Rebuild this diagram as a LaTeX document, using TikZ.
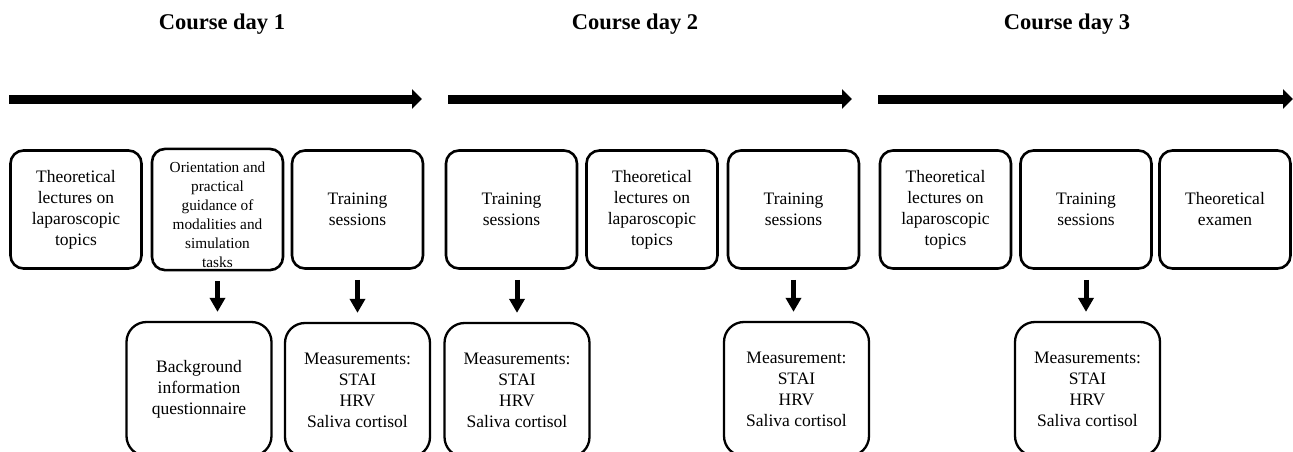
\documentclass[tikz,border=0pt]{standalone}
\usepackage{fontspec}
\setmainfont{Liberation Serif}
\usepackage{tikz}
\usetikzlibrary{arrows.meta,positioning}
\tikzstyle{daytitle} = [font=\fontsize{22.5}{26}\selectfont\bfseries]
\tikzstyle{activity} = [rectangle, rounded corners=13pt, minimum width=131pt, minimum height=118pt, text centered, align=center, draw=black, line width=2.6pt, font=\fontsize{17.5}{21}\selectfont]
\tikzstyle{measure} = [rectangle, rounded corners=20pt, minimum width=145pt, minimum height=134pt, text centered, align=center, draw=black, line width=2.3pt, font=\fontsize{17.5}{21}\selectfont]
\tikzstyle{timeline} = [line width=9pt, -{Triangle[length=10pt,width=19pt]}]
\tikzstyle{arrow} = [line width=5pt, -{Triangle[length=14pt,width=15pt]}, shorten <=10pt, shorten >=9pt]

\begin{document}
\begin{tikzpicture}[x=1pt,y=-1pt]
\useasboundingbox (0,0) rectangle (1293,452);
\clip (0,0) rectangle (1293,452);

% Day titles
\node[daytitle] (day1) at (222,24) {Course day 1};
\node[daytitle] (day2) at (635,24) {Course day 2};
\node[daytitle] (day3) at (1067,24) {Course day 3};

% Timelines
\coordinate (t1s) at (9,99);
\coordinate (t1e) at (422,99);
\coordinate (t2s) at (448,99);
\coordinate (t2e) at (852,99);
\coordinate (t3s) at (878,99);
\coordinate (t3e) at (1293,99);
\draw[timeline] (t1s) -- (t1e);
\draw[timeline] (t2s) -- (t2e);
\draw[timeline] (t3s) -- (t3e);

% Course day 1
\node[activity] (lect1) at (76,209.5) {Theoretical\\lectures on\\laparoscopic\\topics};
\node[activity, inner sep=2pt, font=\fontsize{15.3}{19}\selectfont] (orient) at (217.5,209.5) {\rule{0pt}{22pt}Orientation and\\practical\\guidance of\\modalities and\\simulation\\tasks};
\node[activity] (train1) at (357.5,209.5) {Training\\sessions};

% Course day 2
\node[activity] (train2) at (511.5,209.5) {Training\\sessions};
\node[activity] (lect2) at (652,209.5) {Theoretical\\lectures on\\laparoscopic\\topics};
\node[activity] (train3) at (793.5,209.5) {Training\\sessions};

% Course day 3
\node[activity] (lect3) at (945.5,209.5) {Theoretical\\lectures on\\laparoscopic\\topics};
\node[activity] (train4) at (1086,209.5) {Training\\sessions};
\node[activity] (exam) at (1225,209.5) {Theoretical\\examen};

% Measurements
\node[measure] (bginfo) at (199,389) {Background\\information\\questionnaire};
\node[measure] (meas1) at (357.5,390) {Measurements:\\STAI\\HRV\\Saliva cortisol};
\node[measure] (meas2) at (517,390) {Measurements:\\STAI\\HRV\\Saliva cortisol};
\node[measure] (meas3) at (796.5,389) {Measurement:\\STAI\\HRV\\Saliva cortisol};
\node[measure] (meas4) at (1087.5,389) {Measurements:\\STAI\\HRV\\Saliva cortisol};

% Arrows
\draw[arrow] (orient.south) -- (orient.south |- bginfo.north);
\draw[arrow] (train1.south) -- (train1.south |- meas1.north);
\draw[arrow] (meas2.north |- train2.south) -- (meas2.north);
\draw[arrow] (train3.south) -- (train3.south |- meas3.north);
\draw[arrow] (train4.south) -- (train4.south |- meas4.north);
\end{tikzpicture}
\end{document}
